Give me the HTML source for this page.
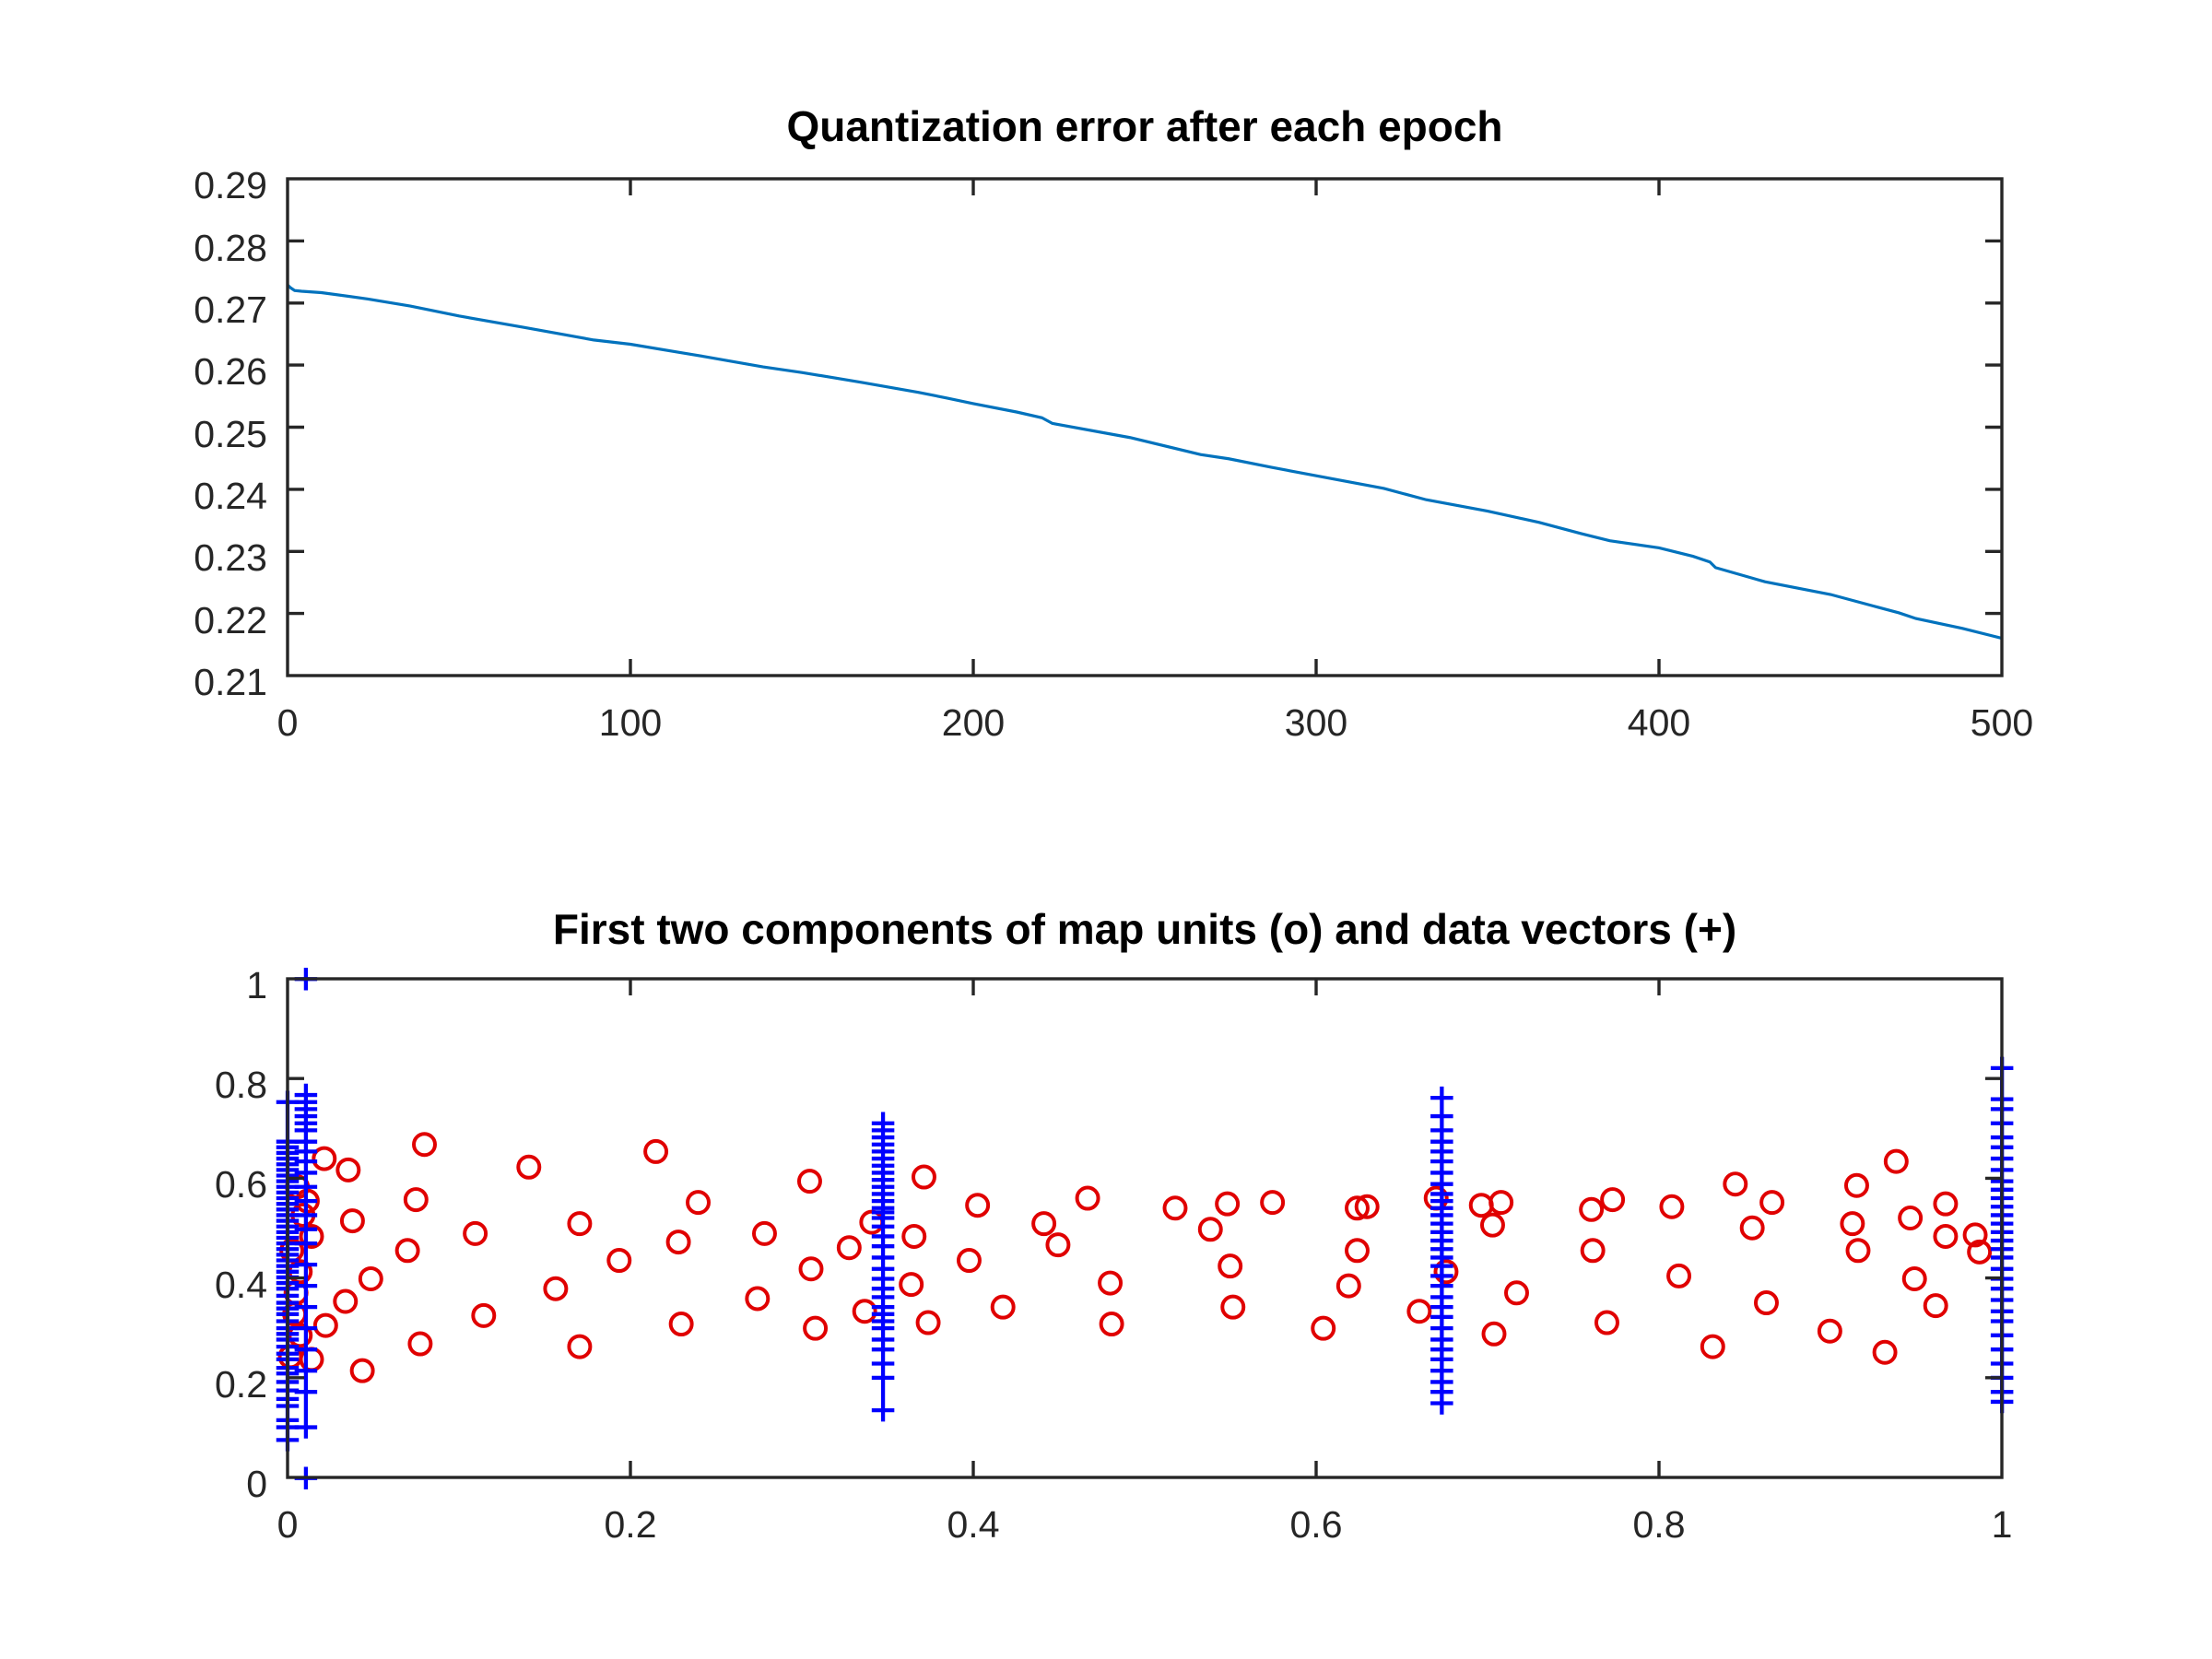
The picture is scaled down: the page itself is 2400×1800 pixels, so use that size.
<!DOCTYPE html>
<html><head><meta charset="utf-8"><style>html,body{margin:0;padding:0;background:#fff}svg{display:block}</style></head><body>
<svg width="2400" height="1800" viewBox="0 0 2400 1800" xmlns="http://www.w3.org/2000/svg" font-family="Liberation Sans, Arial, sans-serif">
<rect width="2400" height="1800" fill="#fff"/>
<g transform="matrix(1.531,0,0,1.534,1.2,-0.8)">
<polyline fill="none" stroke="#0072BD" stroke-width="3.2" vector-effect="non-scaling-stroke" points="203,202 205,204 208,206 213,206.5 227,207.5 260,212 290,217 324.5,224 370,232 420,241 446,244 500,253 540,260 567.5,264 610,271 650,278 670,282 689,286 720,292 737.6,296 745,300 800,310 850,322 870,325 900,331 932,337 980,346 1010,354 1053.5,362 1090,370 1120,378 1140,383 1175,388 1199,394 1211,398 1215,402 1250,412 1296.5,421 1330,430 1345,434 1357,438 1390,445 1418,452"/>
<g fill="none" stroke="#e00000" stroke-width="2.6" vector-effect="non-scaling-stroke">
<circle cx="229" cy="820" r="7.5"/><circle cx="246" cy="828" r="7.5"/><circle cx="300" cy="810" r="7.5"/><circle cx="249" cy="864" r="7.5"/><circle cx="374" cy="826" r="7.5"/><circle cx="294" cy="849" r="7.5"/><circle cx="464" cy="815" r="7.5"/><circle cx="336" cy="873" r="7.5"/><circle cx="288" cy="885" r="7.5"/><circle cx="410" cy="866" r="7.5"/><circle cx="494" cy="851" r="7.5"/><circle cx="573" cy="836" r="7.5"/><circle cx="262" cy="905" r="7.5"/><circle cx="244" cy="921" r="7.5"/><circle cx="230" cy="938" r="7.5"/><circle cx="220" cy="962" r="7.5"/><circle cx="256" cy="970" r="7.5"/><circle cx="297" cy="951" r="7.5"/><circle cx="342" cy="931" r="7.5"/><circle cx="393" cy="912" r="7.5"/><circle cx="410" cy="953" r="7.5"/><circle cx="438" cy="892" r="7.5"/><circle cx="480" cy="879" r="7.5"/><circle cx="482" cy="937" r="7.5"/><circle cx="536" cy="919" r="7.5"/><circle cx="541" cy="873" r="7.5"/><circle cx="574" cy="898" r="7.5"/><circle cx="577" cy="940" r="7.5"/><circle cx="601" cy="883" r="7.5"/><circle cx="612" cy="928" r="7.5"/><circle cx="617" cy="865" r="7.5"/><circle cx="647" cy="875" r="7.5"/><circle cx="645" cy="909" r="7.5"/><circle cx="654" cy="833" r="7.5"/><circle cx="657" cy="936" r="7.5"/><circle cx="686" cy="892" r="7.5"/><circle cx="692" cy="853" r="7.5"/><circle cx="710" cy="925" r="7.5"/><circle cx="739" cy="866" r="7.5"/><circle cx="749" cy="881" r="7.5"/><circle cx="770" cy="848" r="7.5"/><circle cx="786" cy="908" r="7.5"/><circle cx="787" cy="937" r="7.5"/><circle cx="832" cy="855" r="7.5"/><circle cx="857" cy="870" r="7.5"/><circle cx="869" cy="852" r="7.5"/><circle cx="871" cy="896" r="7.5"/><circle cx="873" cy="925" r="7.5"/><circle cx="901" cy="851" r="7.5"/><circle cx="937" cy="940" r="7.5"/><circle cx="955" cy="910" r="7.5"/><circle cx="961" cy="855" r="7.5"/><circle cx="968" cy="854" r="7.5"/><circle cx="961" cy="885" r="7.5"/><circle cx="1005" cy="928" r="7.5"/><circle cx="1017" cy="848" r="7.5"/><circle cx="1024" cy="900" r="7.5"/><circle cx="1049" cy="853" r="7.5"/><circle cx="1057" cy="867" r="7.5"/><circle cx="1063" cy="851" r="7.5"/><circle cx="1058" cy="944" r="7.5"/><circle cx="1074" cy="915" r="7.5"/><circle cx="1127" cy="856" r="7.5"/><circle cx="1142" cy="849" r="7.5"/><circle cx="1128" cy="885" r="7.5"/><circle cx="1138" cy="936" r="7.5"/><circle cx="1184" cy="854" r="7.5"/><circle cx="1189" cy="903" r="7.5"/><circle cx="1213" cy="953" r="7.5"/><circle cx="1229" cy="838" r="7.5"/><circle cx="1241" cy="869" r="7.5"/><circle cx="1255" cy="851" r="7.5"/><circle cx="1251" cy="922" r="7.5"/><circle cx="1296" cy="942" r="7.5"/><circle cx="1312" cy="866" r="7.5"/><circle cx="1315" cy="839" r="7.5"/><circle cx="1316" cy="885" r="7.5"/><circle cx="1343" cy="822" r="7.5"/><circle cx="1353" cy="862" r="7.5"/><circle cx="1356" cy="905" r="7.5"/><circle cx="1335" cy="957" r="7.5"/><circle cx="1371" cy="924" r="7.5"/><circle cx="1378" cy="852" r="7.5"/><circle cx="1378" cy="875" r="7.5"/><circle cx="1399" cy="874" r="7.5"/><circle cx="1402" cy="886" r="7.5"/>
<circle cx="217" cy="850" r="7.5"/><circle cx="220" cy="875" r="7.5"/><circle cx="212" cy="900" r="7.5"/><circle cx="208" cy="930" r="7.5"/><circle cx="205" cy="960" r="7.5"/><circle cx="210" cy="840" r="7.5"/><circle cx="214" cy="860" r="7.5"/><circle cx="206" cy="885" r="7.5"/><circle cx="209" cy="915" r="7.5"/><circle cx="212" cy="945" r="7.5"/>
</g>
<g fill="none" stroke="#0000ff" stroke-width="2.8" vector-effect="non-scaling-stroke">
<path d="M195 1019h16M195 1010h16M195 1005h16M195 995h16M195 990h16M195 984h16M195 978h16M195 972h16M195 968h16M195 962h16M195 958h16M195 953h16M195 948h16M195 944h16M195 940h16M195 935h16M195 930h16M195 926h16M195 922h16M195 917h16M195 912h16M195 908h16M195 904h16M195 900h16M195 896h16M195 892h16M195 888h16M195 884h16M195 880h16M195 876h16M195 872h16M195 868h16M195 864h16M195 860h16M195 856h16M195 852h16M195 848h16M195 844h16M195 840h16M195 836h16M195 832h16M195 828h16M195 824h16M195 820h16M195 816h16M195 812h16M195 808h16M195 780h16M203 772v255"/>
<path d="M208 1046h16M208 1010h16M208 985h16M208 970h16M208 955h16M208 940h16M208 925h16M208 910h16M208 895h16M208 880h16M208 870h16M208 860h16M208 850h16M208 840h16M208 830h16M208 822h16M208 815h16M208 808h16M208 800h16M208 795h16M208 790h16M208 785h16M208 780h16M208 775h16M208 693h16M216 1038v16M216 685v16M216 767v251"/>
<path d="M617 998h16M617 975h16M617 965h16M617 955h16M617 948h16M617 940h16M617 935h16M617 930h16M617 925h16M617 918h16M617 912h16M617 905h16M617 898h16M617 890h16M617 882h16M617 875h16M617 868h16M617 862h16M617 858h16M617 855h16M617 850h16M617 845h16M617 840h16M617 835h16M617 830h16M617 825h16M617 820h16M617 815h16M617 810h16M617 805h16M617 800h16M617 795h16M625 787v219"/>
<path d="M1013 993h16M1013 985h16M1013 978h16M1013 970h16M1013 962h16M1013 955h16M1013 948h16M1013 940h16M1013 932h16M1013 925h16M1013 918h16M1013 910h16M1013 903h16M1013 896h16M1013 890h16M1013 884h16M1013 878h16M1013 872h16M1013 866h16M1013 860h16M1013 855h16M1013 850h16M1013 845h16M1013 838h16M1013 830h16M1013 822h16M1013 815h16M1013 808h16M1013 800h16M1013 790h16M1013 777h16M1021 769v232"/>
<path d="M1410 992h16M1410 985h16M1410 975h16M1410 965h16M1410 955h16M1410 945h16M1410 935h16M1410 928h16M1410 920h16M1410 912h16M1410 905h16M1410 898h16M1410 890h16M1410 884h16M1410 878h16M1410 872h16M1410 866h16M1410 860h16M1410 854h16M1410 848h16M1410 842h16M1410 836h16M1410 828h16M1410 820h16M1410 812h16M1410 805h16M1410 795h16M1410 785h16M1410 778h16M1410 756h16M1418 748v252"/>
</g>
</g>
<g stroke="#262626" stroke-width="3.4" fill="none">
<rect x="312" y="194" width="1860" height="539"/>
<rect x="312" y="1062" width="1860" height="541"/>
<path d="M684 733v-18M1056 733v-18M1428 733v-18M1800 733v-18M684 194v18M1056 194v18M1428 194v18M1800 194v18"/>
<path d="M312 665.6h18M312 598.3h18M312 530.9h18M312 463.5h18M312 396.1h18M312 328.8h18M312 261.4h18M2172 665.6h-18M2172 598.3h-18M2172 530.9h-18M2172 463.5h-18M2172 396.1h-18M2172 328.8h-18M2172 261.4h-18"/>
<path d="M684 1603v-18M1056 1603v-18M1428 1603v-18M1800 1603v-18M684 1062v18M1056 1062v18M1428 1062v18M1800 1062v18"/>
<path d="M312 1494.8h18M312 1386.6h18M312 1278.4h18M312 1170.2h18M2172 1494.8h-18M2172 1386.6h-18M2172 1278.4h-18M2172 1170.2h-18"/>
</g>
<g fill="#262626" font-size="41">
<g text-anchor="end">
<text x="290" y="754">0.21</text><text x="290" y="687">0.22</text><text x="290" y="619">0.23</text><text x="290" y="552">0.24</text><text x="290" y="485">0.25</text><text x="290" y="417">0.26</text><text x="290" y="350">0.27</text><text x="290" y="283">0.28</text><text x="290" y="215">0.29</text>
<text x="290" y="1624">0</text><text x="290" y="1516">0.2</text><text x="290" y="1408">0.4</text><text x="290" y="1299">0.6</text><text x="290" y="1191">0.8</text><text x="290" y="1083">1</text>
</g>
<g text-anchor="middle">
<text x="312" y="798">0</text><text x="684" y="798">100</text><text x="1056" y="798">200</text><text x="1428" y="798">300</text><text x="1800" y="798">400</text><text x="2172" y="798">500</text>
<text x="312" y="1668">0</text><text x="684" y="1668">0.2</text><text x="1056" y="1668">0.4</text><text x="1428" y="1668">0.6</text><text x="1800" y="1668">0.8</text><text x="2172" y="1668">1</text>
</g>
<g text-anchor="middle" font-weight="bold" font-size="46" fill="#000">
<text x="1242" y="153">Quantization error after each epoch</text>
<text x="1242" y="1024">First two components of map units (o) and data vectors (+)</text>
</g>
</g>
</svg>
</body></html>
